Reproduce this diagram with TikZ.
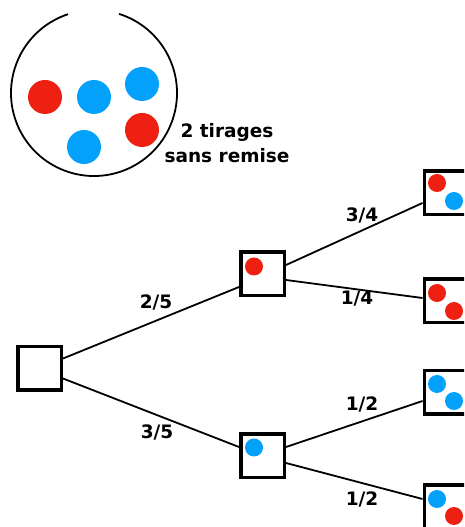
\documentclass[tikz,border=0pt]{standalone}
\usepackage{fontspec}
\setmainfont{DejaVu Sans}
\usetikzlibrary{calc}
\definecolor{ballred}{RGB}{237,32,18}
\definecolor{ballblue}{RGB}{3,161,250}
\begin{document}
\begin{tikzpicture}[x=1pt,y=1pt,
  box/.style={draw=black,line width=3.5pt,minimum size=43.5pt,inner sep=0pt,fill=white},
  edge/.style={draw=black,line width=1.8pt},
  lab/.style={font=\fontsize{18.5}{20}\selectfont\bfseries,inner sep=0pt},
  rdot/.style={fill=ballred,draw=none},
  bdot/.style={fill=ballblue,draw=none}]
\useasboundingbox (0,0) rectangle (464,527);
\clip (0,0) rectangle (464,527);
% urn
\draw[line width=1.8pt] (119.1,513.1) arc[start angle=72.4,end angle=-251.8,radius=83pt];
\fill[ballred] (45,430) circle[radius=17pt];
\fill[ballblue] (94,430) circle[radius=17pt];
\fill[ballblue] (142,443) circle[radius=17pt];
\fill[ballred] (142,397) circle[radius=17pt];
\fill[ballblue] (84,380) circle[radius=17pt];
\node[lab,align=center,font=\fontsize{18.5}{25}\selectfont\bfseries] (urnlab) at (227,384) {2 tirages\\sans remise};
% boxes
\node[box] (root) at (39.5,158.5) {};
\node[box] (m1) at (262.5,253) {};
\node[box] (m2) at (262.5,71) {};
\node[box] (r1) at (446,334) {};
\node[box] (r2) at (446,226) {};
\node[box] (r3) at (446,134.5) {};
\node[box] (r4) at (446,20) {};
% dots
\fill[ballred] ($(m1)+(-8.5,7.5)$) circle[radius=9pt];
\fill[ballblue] ($(m2)+(-8.5,8.5)$) circle[radius=9pt];
\fill[ballred] ($(r1)+(-9,10)$) circle[radius=9pt];
\fill[ballblue] ($(r1)+(8,-8)$) circle[radius=9pt];
\fill[ballred] ($(r2)+(-9,8)$) circle[radius=9pt];
\fill[ballred] ($(r2)+(8,-10)$) circle[radius=9pt];
\fill[ballblue] ($(r3)+(-9,8.5)$) circle[radius=9pt];
\fill[ballblue] ($(r3)+(8,-8.5)$) circle[radius=9pt];
\fill[ballblue] ($(r4)+(-9,8)$) circle[radius=9pt];
\fill[ballred] ($(r4)+(8,-9)$) circle[radius=9pt];
% connectors
\draw[edge] ($(root.east)+(0,10)$) -- ($(m1.west)+(0,-13)$);
\draw[edge] ($(root.east)+(0,-10)$) -- ($(m2.west)+(0,9)$);
\draw[edge] ($(m1.east)+(0,9)$) -- ($(r1.west)+(0,-10)$);
\draw[edge] ($(m1.east)+(0,-6)$) -- ($(r2.west)+(0,3)$);
\draw[edge] ($(m2.east)+(0,9)$) -- ($(r3.west)+(0,-8.5)$);
\draw[edge] ($(m2.east)+(0,-7)$) -- ($(r4.west)+(0,8)$);
% labels
\node[lab] (l25) at (156,225) {2/5};
\node[lab] (l35) at (157,95) {3/5};
\node[lab] (l34) at (362,312) {3/4};
\node[lab] (l14) at (357,228.5) {1/4};
\node[lab] (l12a) at (362,123) {1/2};
\node[lab] (l12b) at (362,28) {1/2};
\end{tikzpicture}
\end{document}
